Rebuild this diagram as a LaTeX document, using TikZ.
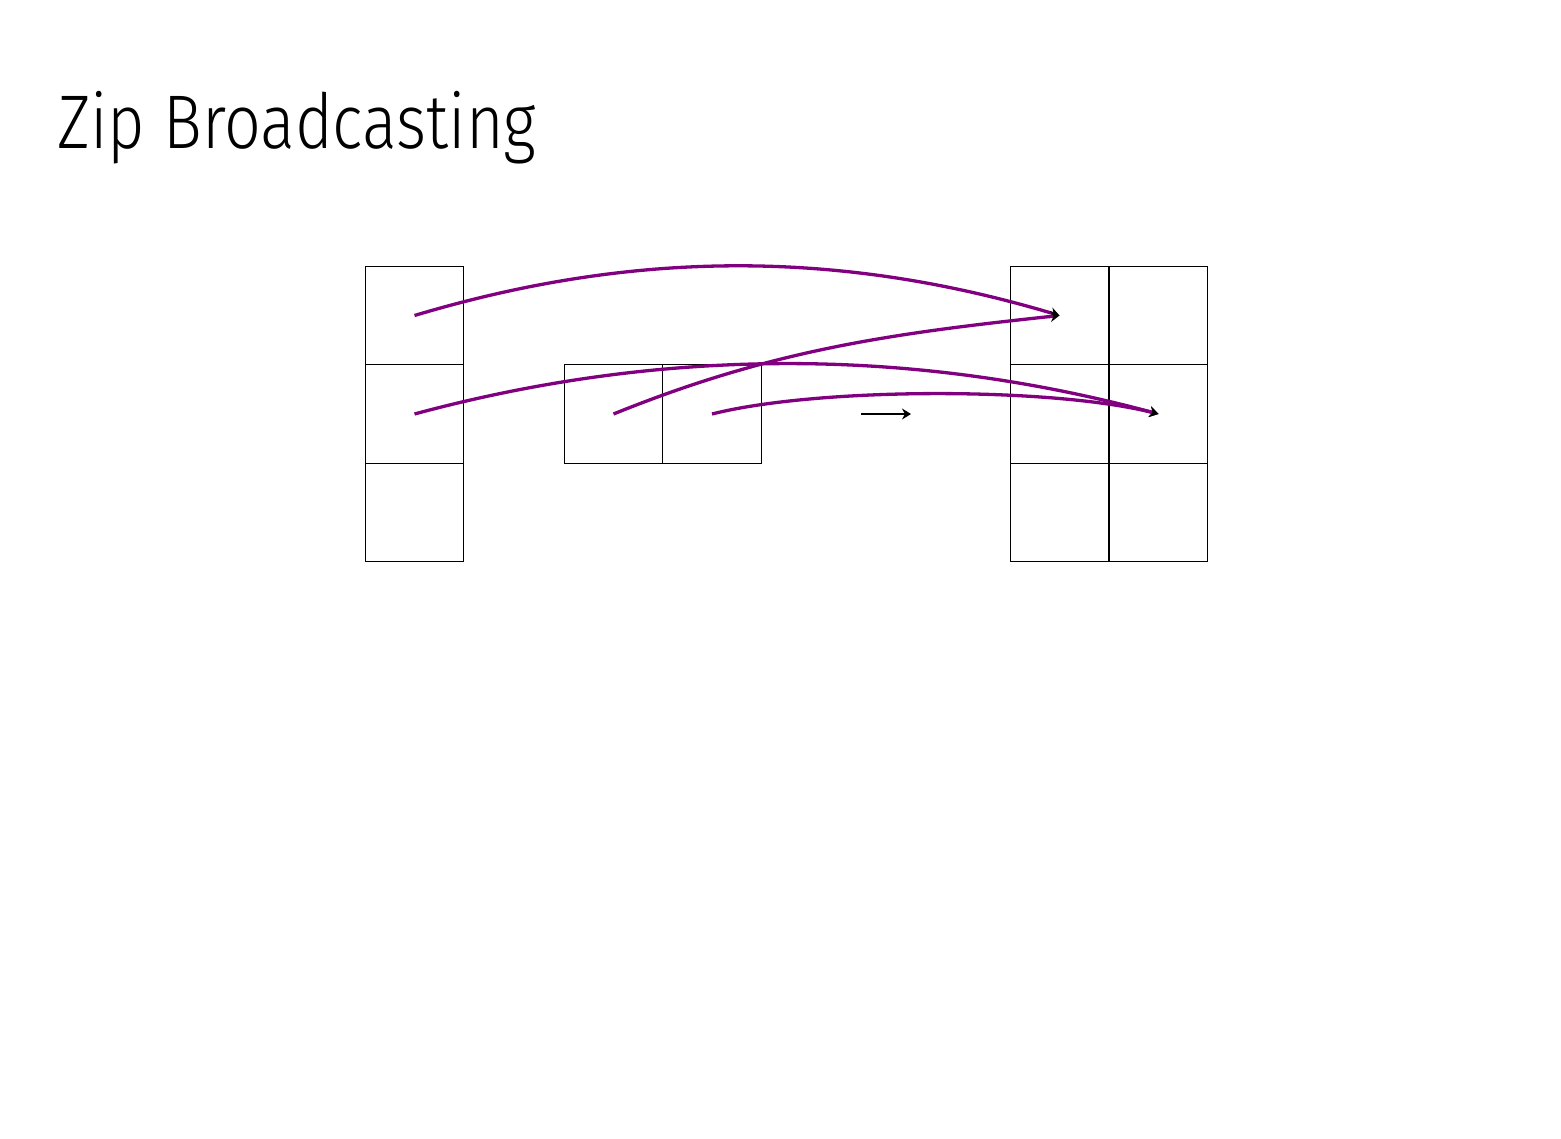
\documentclass[tikz,border=0pt]{standalone}
\usepackage{fontspec}
\newfontfamily\titlefont[FakeStretch=0.85]{Fira Sans Light}
\usetikzlibrary{arrows.meta}
\definecolor{zpurple}{RGB}{128,0,128}
\begin{document}
\begin{tikzpicture}[x=1pt,y=-1pt,
  cell/.style={draw=black,line width=1.3pt,minimum size=98.5pt,inner sep=0pt,outer sep=0pt},
  zarrow/.style={draw=zpurple,line width=3.3pt,-{Stealth[black,length=9pt,width=11pt]}},
  plainarrow/.style={draw=black,line width=1.3pt,-{Stealth[length=9pt,width=11pt]}}]
\useasboundingbox (0,0) rectangle (1561,1138);
\node[anchor=base west,inner sep=0pt,font=\titlefont\fontsize{76}{90}\selectfont] (title) at (57,148) {Zip Broadcasting};
% left column
\node[cell] (L1) at (414.5,315.5) {};
\node[cell] (L2) at (414.5,414) {};
\node[cell] (L3) at (414.5,512.5) {};
% middle row
\node[cell] (M1) at (613.5,414) {};
\node[cell] (M2) at (712,414) {};
% right grid
\node[cell] (R11) at (1059.5,315.5) {};
\node[cell] (R12) at (1158.5,315.5) {};
\node[cell] (R21) at (1059.5,414) {};
\node[cell] (R22) at (1158.5,414) {};
\node[cell] (R31) at (1059.5,512.5) {};
\node[cell] (R32) at (1158.5,512.5) {};
% small arrow
\coordinate (s0) at (861,414);
\coordinate (s1) at (911,414);
\draw[plainarrow] (s0) -- (s1);
% purple arrows
\draw[zarrow] (L1.center) .. controls +(220,-66) and +(-220,-66) .. (R11.center);
\draw[zarrow] (M1.center) .. controls +(158,-64) and +(-169,18) .. (R11.center);
\draw[zarrow] (L2.center) .. controls +(248,-67) and +(-248,-67) .. (R22.center);
\draw[zarrow] (M2.center) .. controls +(107,-27) and +(-107,-27) .. (R22.center);
\end{tikzpicture}
\end{document}
